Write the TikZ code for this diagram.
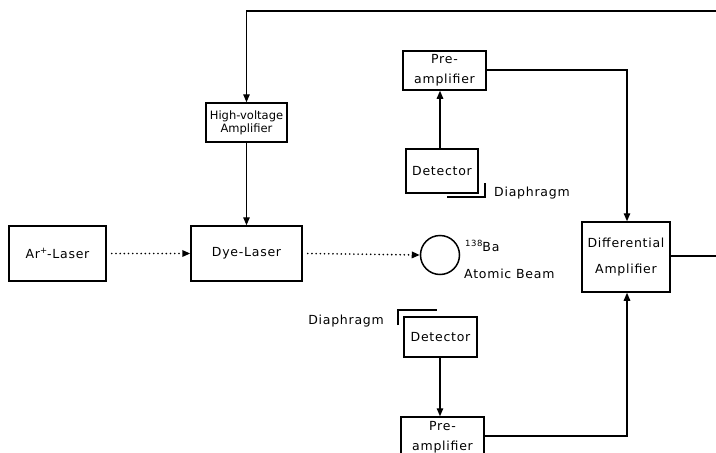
\documentclass[tikz,border=0pt]{standalone}
\usepackage{fontspec}
\setmainfont{DejaVu Sans}
\newfontfamily\spc[LetterSpace=6]{DejaVu Sans}
\newcommand{\mysup}[1]{\raisebox{4.5pt}{\fontsize{8.5}{8.5}\selectfont #1}}
\usetikzlibrary{arrows.meta}
\begin{document}
\begin{tikzpicture}[x=1pt,y=-1pt,
  box/.style={draw,line width=1.5pt,rectangle,inner sep=0pt,align=center,font=\spc\fontsize{12.5}{20}\selectfont},
  conn/.style={line width=1.3pt,-{Triangle[length=8pt,width=6.5pt]}},
  wire/.style={line width=1.3pt},
  beamline/.style={line width=1.8pt,line cap=round,dash pattern=on 0pt off 4.2pt,-{Triangle[length=8pt,width=6.5pt]}},
  diaph/.style={line width=2.2pt},
  lbl/.style={inner sep=0pt,font=\spc\fontsize{12.5}{14}\selectfont}]
\useasboundingbox (0,0) rectangle (716,453);
\node[box,minimum width=97pt,minimum height=55pt] (ar) at (57.5,253.5) {Ar\mysup{+}-Laser};
\node[box,minimum width=111pt,minimum height=55pt] (dye) at (246.5,253.5) {Dye-Laser};
\node[box,minimum width=81pt,minimum height=39pt,font=\fontsize{11.5}{13}\selectfont] (hv) at (246.5,122.5) {High-voltage\\Amplifier};
\node[draw,circle,line width=1.5pt,minimum size=39pt,inner sep=0pt] (beam) at (440,255) {};
\node[box,minimum width=83pt,minimum height=39pt] (pre1) at (444.5,70.5) {Pre-\\amplifier};
\node[box,minimum width=72pt,minimum height=44pt] (det1) at (442,171) {Detector};
\node[box,minimum width=88pt,minimum height=70pt,font=\spc\fontsize{12.5}{26}\selectfont] (diff) at (626,257) {Differential\\Amplifier};
\node[box,minimum width=73pt,minimum height=40pt] (det2) at (440.5,337) {Detector};
\node[box,minimum width=83pt,minimum height=38pt,text depth=0pt] (pre2) at (442.5,436) {Pre-\\amplifier};

\node[lbl,anchor=west] (ba) at (465,246) {\mysup{138}Ba};
\node[lbl,anchor=west] (ab) at (464,274) {Atomic Beam};
\node[lbl,anchor=west] (dg1) at (494,193) {Diaphragm};
\node[lbl,anchor=east] (dg2) at (384,321) {Diaphragm};

\coordinate (tr) at (716,11);
\coordinate (rr) at (716,256);
\coordinate (j1) at (627,70);
\coordinate (j2) at (627,436);

\draw[conn] (tr) -- (hv.north |- tr) -- (hv.north);
\draw[conn] (hv.south) -- (dye.north);
\draw[beamline] (ar.east) ++(5,0) -- (dye.west);
\draw[beamline] (dye.east) ++(5,0) -- (beam.west);
\draw[conn] (det1.north -| 440,0) -- (pre1.south -| 440,0);
\draw[conn] (pre1.east |- j1) -- (j1) -- (diff.north -| j1);
\draw[conn] (det2.south -| 440,0) -- (pre2.north -| 440,0);
\draw[conn] (pre2.east |- j2) -- (j2) -- (diff.south -| j2);
\draw[wire] (diff.east |- rr) -- (rr);

\draw[diaph] (447,197) -- (485,197) -- (485,183);
\draw[diaph] (398,325) -- (398,310) -- (437,310);
\end{tikzpicture}
\end{document}
